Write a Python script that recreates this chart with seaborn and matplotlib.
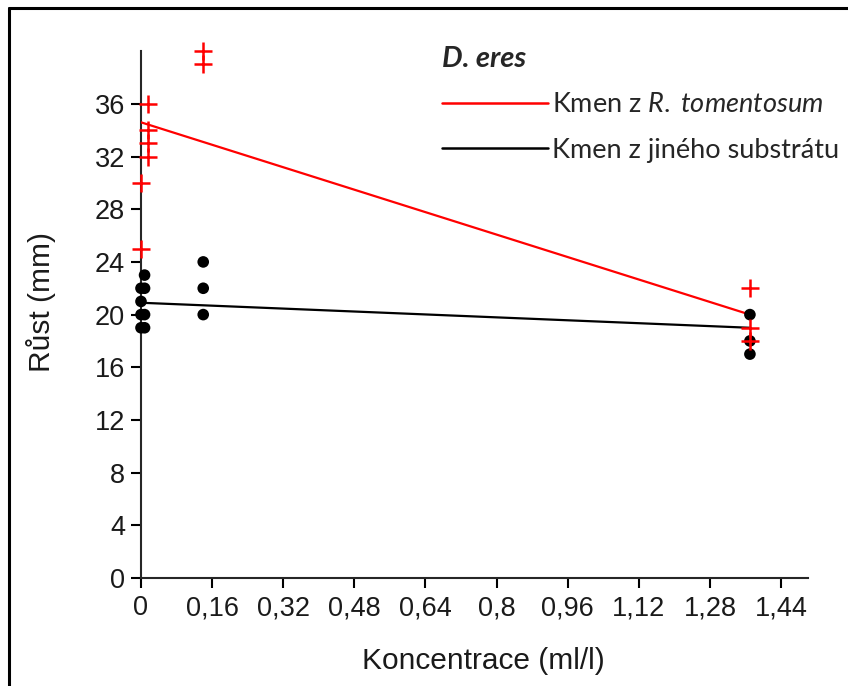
import matplotlib
matplotlib.use("Agg")
import matplotlib.pyplot as plt
import seaborn as sns
import pandas as pd
from matplotlib.lines import Line2D

# ---- data ----
red_x = [0, 0, 0.015, 0.015, 0.015, 0.015, 0.14, 0.14, 1.37, 1.37, 1.37]
red_y = [25, 30, 32, 33, 34, 36, 39, 40, 22, 19, 18]
black_x = [0, 0, 0, 0, 0.008, 0.008, 0.008, 0.008, 0.14, 0.14, 0.14, 1.37, 1.37, 1.37]
black_y = [22, 21, 20, 19, 23, 22, 20, 19, 24, 22, 20, 20, 18, 17]
fit_x = [0, 1.37]
red_fit = [34.6, 20.0]
black_fit = [20.9, 19.0]
x_ticks = [0, 0.16, 0.32, 0.48, 0.64, 0.8, 0.96, 1.12, 1.28, 1.44]
x_tick_labels = ["0", "0,16", "0,32", "0,48", "0,64", "0,8", "0,96", "1,12", "1,28", "1,44"]
y_ticks = [0, 4, 8, 12, 16, 20, 24, 28, 32, 36]
legend_title = "D. eres"
label_red = "Kmen z $\\mathit{R.\\;tomentosum}$"
label_black = "Kmen z jiného substrátu"
xlabel = "Koncentrace (ml/l)"
ylabel = "Růst (mm)"

sns.set_theme(style="ticks")
plt.rcParams["font.family"] = ["Liberation Sans", "DejaVu Sans"]
plt.rcParams["mathtext.fontset"] = "custom"
plt.rcParams["mathtext.it"] = "Lato:italic"
plt.rcParams["mathtext.rm"] = "Lato"

W, H = 848, 686
fig = plt.figure(figsize=(W / 100, H / 100), dpi=100)
ax = fig.add_axes([141 / W, (H - 578) / H, 666.7 / W, 526.8 / H])

df_red = pd.DataFrame({"x": red_x, "y": red_y})
df_black = pd.DataFrame({"x": black_x, "y": black_y})
df_rf = pd.DataFrame({"x": fit_x, "y": red_fit})
df_bf = pd.DataFrame({"x": fit_x, "y": black_fit})

sns.lineplot(data=df_rf, x="x", y="y", color="#ff0000", lw=1.6, ax=ax, zorder=3)
sns.lineplot(data=df_bf, x="x", y="y", color="black", lw=1.6, ax=ax, zorder=3)
sns.scatterplot(data=df_black, x="x", y="y", color="black", s=70, edgecolor="none",
                ax=ax, zorder=4, clip_on=False)
sns.scatterplot(data=df_red, x="x", y="y", color="#ff0000", marker="+", s=160,
                linewidth=1.8, ax=ax, zorder=5, clip_on=False)

ax.set_xlim(0, 1.5)
ax.set_ylim(0, 40)
ax.set_xticks(x_ticks)
ax.set_xticklabels(x_tick_labels)
ax.set_yticks(y_ticks)
sns.despine(ax=ax)
for s in ("left", "bottom"):
    ax.spines[s].set_linewidth(1.5)
ax.tick_params(axis="both", length=7.5, width=1.5, labelsize=19.5, color="black",
               labelcolor="#1a1a1a")
ax.tick_params(axis="x", pad=5)
ax.tick_params(axis="y", pad=4)

ax.set_xlabel(xlabel, fontsize=21.5, color="#1a1a1a")
ax.set_ylabel(ylabel, fontsize=21.5, color="#1a1a1a")
ax.xaxis.set_label_coords((483 - 141) / 666.7, (578 - 647) / 526.8)
ax.yaxis.set_label_coords((56 - 141) / 666.7, (578 - 302) / 526.8)

handles = [Line2D([], [], color="#ff0000", lw=1.8),
           Line2D([], [], color="black", lw=1.8)]
leg = fig.legend(handles, [label_red, label_black], loc="upper left",
                 bbox_to_anchor=(442 / W, 1 - 46 / H), frameon=False,
                 prop={"family": "Lato", "size": 19.5}, handlelength=3.9,
                 handletextpad=0.15, labelspacing=0.75, borderpad=0,
                 borderaxespad=0,
                 title=legend_title,
                 title_fontproperties={"family": "Lato", "size": 21,
                                       "weight": "bold", "style": "italic"},
                 alignment="left")

# outer frame
fig.add_artist(Line2D([9 / W, 9 / W], [0, 1 - 8 / H], color="black", lw=2.2,
                      transform=fig.transFigure))
fig.add_artist(Line2D([9 / W, 1], [1 - 8 / H, 1 - 8 / H], color="black", lw=2.2,
                      transform=fig.transFigure))

fig.savefig("out.png", dpi=100)
